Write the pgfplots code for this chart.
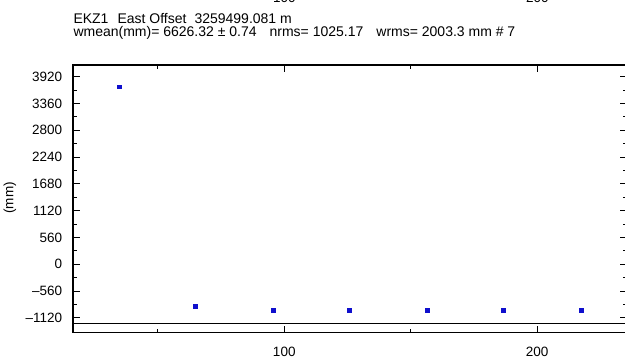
\documentclass[border=0pt]{standalone}
\usepackage{fontspec}
\setmainfont{Liberation Sans}
\usepackage{pgfplots}
\pgfplotsset{compat=1.18}
\definecolor{ptblue}{RGB}{15,15,205}
\newcommand{\lf}{\fontsize{13.5}{15}\selectfont}
\newcommand{\tf}{\fontsize{14}{16}\selectfont}
\begin{document}
\begin{tikzpicture}[x=1pt,y=1pt]
\useasboundingbox (0,0) rectangle (625,363);
\clip (0,0) rectangle (625,363);
\begin{axis}[
  scale only axis, width=553.2pt, height=267.7pt,
  at={(73.3pt,30.3pt)}, anchor=south west,
  xmin=16.6, xmax=235.3, ymin=-1434, ymax=4165,
  axis line style={line width=1.6pt},
  tick align=inside,
  xtick={100,200}, minor xtick={50,150},
  xticklabels={100,200},
  ytick={-1120,-560,...,3920}, minor ytick={-840,-280,...,3640},
  yticklabels={{--}1120,{--}560,0,560,1120,1680,2240,2800,3360,3920},
  major tick length=7pt, minor tick length=4pt,
  tick style={black, line width=0.8pt},
  ticklabel style={font=\lf},
  yticklabel style={inner sep=0pt, xshift=-11pt},
  xticklabel style={inner sep=0pt, yshift=-14pt},
]
\addplot[black, line width=0.9pt] coordinates {(0,-1237) (300,-1237)};
\addplot[only marks, mark=square*, mark size=1.9pt, mark options={fill=ptblue, draw=ptblue}] coordinates {
  (34.7,3711) (64.7,-875) (95.65,-959) (125.6,-959) (156.5,-959) (186.4,-959) (217.5,-959)
};
\end{axis}
\node[anchor=base west, inner sep=0pt, font=\tf] at (73.3,339.7) {EKZ1\hspace{9pt}East Offset\hspace{8pt}3259499.081 m};
\node[anchor=base west, inner sep=0pt, font=\tf] at (73.3,326) {wmean(mm)= 6626.32 ± 0.74\hspace{13pt}nrms= 1025.17\hspace{13pt}wrms= 2003.3 mm \# 7};
\node[anchor=base, inner sep=0pt, font=\lf] at (284.3,360) {100};
\node[anchor=base, inner sep=0pt, font=\lf] at (537.3,360) {200};
\node[rotate=90, inner sep=0pt, font=\lf] at (10,165) {(mm)};
\end{tikzpicture}
\end{document}
